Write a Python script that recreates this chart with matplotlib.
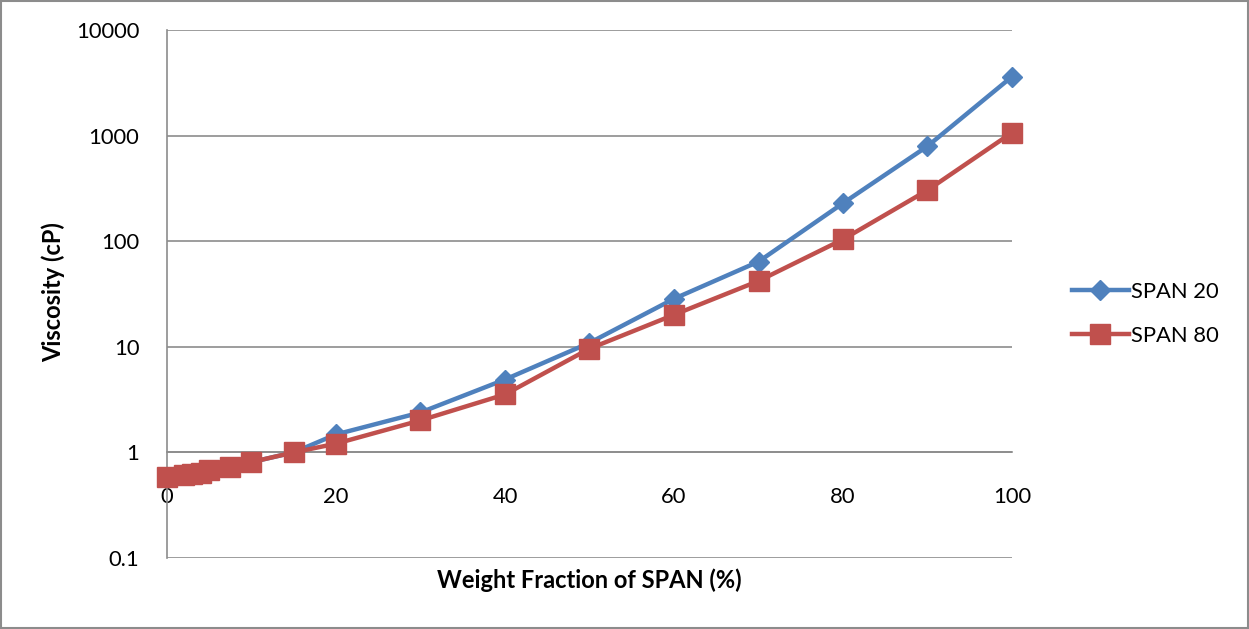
import matplotlib.pyplot as plt
from matplotlib.ticker import FixedLocator, FixedFormatter, NullLocator

plt.rcParams['font.family'] = ['Lato', 'DejaVu Sans']

# weight fraction of SPAN (%)
frac = [0, 2, 3, 4, 5, 7.5, 10, 15, 20, 30, 40, 50, 60, 70, 80, 90, 100]
# viscosity (cP)
span20 = [0.58, 0.605, 0.62, 0.64, 0.675, 0.72, 0.81, 1.0, 1.48, 2.39, 4.9, 10.9, 28.5, 64, 229, 794, 3620]
span80 = [0.58, 0.605, 0.62, 0.64, 0.675, 0.72, 0.81, 1.0, 1.21, 2.01, 3.54, 9.6, 20.1, 42, 104, 304, 1067]

yticks = [0.1, 1, 10, 100, 1000, 10000]
ytick_labels = ['0.1', '1', '10', '100', '1000', '10000']
xticks = [0, 20, 40, 60, 80, 100]

blue = '#4F81BD'
red = '#C0504D'
grid = '#8C8C8C'

fig = plt.figure(figsize=(12.49, 6.29), dpi=100)
ax = fig.add_axes([167 / 1249, 71 / 629, 845 / 1249, 528 / 629])

ax.plot(frac, span20, color=blue, lw=3.2, marker='D', ms=10.5, label='SPAN 20',
        zorder=3, clip_on=False)
ax.plot(frac, span80, color=red, lw=3.2, marker='s', ms=14, label='SPAN 80',
        zorder=4, clip_on=False)

ax.set_yscale('log')
ax.set_ylim(0.1, 10000)
ax.set_xlim(0, 100)
ax.yaxis.set_major_locator(FixedLocator(yticks))
ax.yaxis.set_major_formatter(FixedFormatter(ytick_labels))
ax.yaxis.set_minor_locator(NullLocator())
ax.set_xticks(xticks)
ax.set_xticklabels([str(v) for v in xticks])

ax.grid(axis='y', color=grid, lw=1.2)
ax.set_axisbelow(True)
for s in ['top', 'right']:
    ax.spines[s].set_visible(False)
ax.spines['left'].set_color(grid)
ax.spines['left'].set_linewidth(1.2)
# horizontal axis crosses at 1
ax.spines['bottom'].set_position(('data', 1))
ax.spines['bottom'].set_color(grid)
ax.spines['bottom'].set_linewidth(1.2)
ax.tick_params(axis='both', length=0, labelsize=15.8, colors='black')
ax.tick_params(axis='y', pad=20)
ax.tick_params(axis='x', pad=25)

fig.text(589 / 1249, 1 - 580 / 629, 'Weight Fraction of SPAN (%)', ha='center', va='center',
         fontsize=17, fontweight='bold')
fig.text(53 / 1249, 1 - 292 / 629, 'Viscosity (cP)', ha='center', va='center',
         rotation=90, fontsize=17, fontweight='bold')

ax.legend(loc='center left', bbox_to_anchor=(1052 / 1249, 1 - 314 / 629),
          bbox_transform=fig.transFigure, frameon=False, fontsize=15.8,
          handlelength=2.6, handletextpad=0.1, labelspacing=1.1)

# outer chart border
fig.patches.append(plt.Rectangle((0.001, 0.001), 0.998, 0.997, transform=fig.transFigure,
                                 fill=False, edgecolor=grid, lw=1.5))

fig.savefig('out.png', dpi=100)
